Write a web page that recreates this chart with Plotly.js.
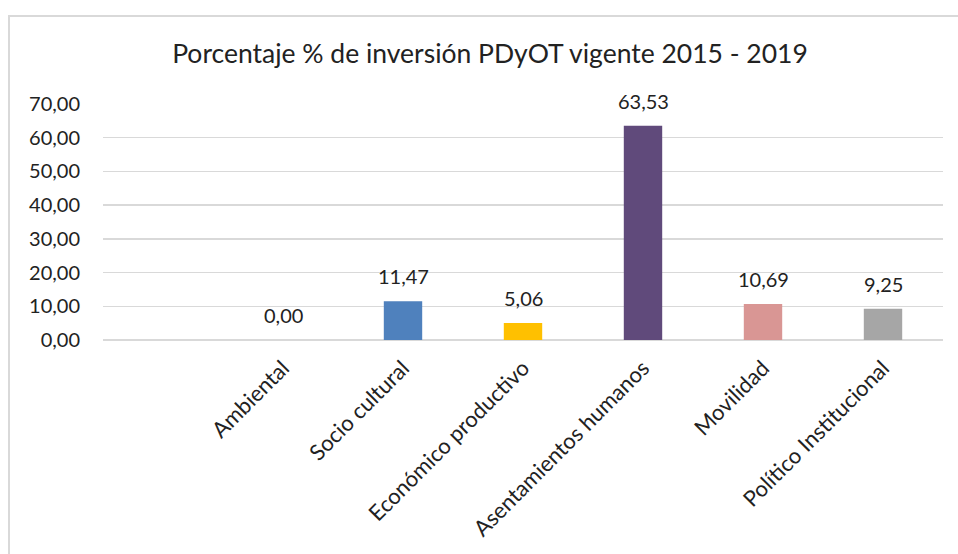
<!DOCTYPE html>
<html>
<head>
<meta charset="utf-8">
<script src="https://cdn.plot.ly/plotly-3.0.1.min.js"></script>
<style>
    body { margin: 0; background: #fff; }
    #chart { width: 958px; height: 554px; }
    #frame {
        position: absolute; left: 8px; top: 15px; width: 950px; height: 539px;
        border-top: 2px solid #d9d9d9; border-left: 2px solid #d9d9d9;
        pointer-events: none;
    }
</style>
</head>
<body>
<div id="chart"></div>
<div id="frame"></div>
<script>
const categories = ['Ambiental', 'Socio cultural', 'Económico productivo',
        'Asentamientos humanos', 'Movilidad', 'Político Institucional'],
    values = [0.00, 11.47, 5.06, 63.53, 10.69, 9.25],
    barColors = ['#9bbb59', '#4f81bd', '#ffc000', '#604a7b', '#d99694', '#a6a6a6'],
    yTicks = [0, 10, 20, 30, 40, 50, 60, 70];

const textColor = '#222',
    fontFamily = 'Lato, "Open Sans", sans-serif';

// data labels sit a fixed distance above each bar, like the Excel original
const labels = categories.map((cat, i) => ({
    x: cat,
    y: values[i],
    text: values[i].toFixed(2).replace('.', ','),
    showarrow: false,
    yanchor: 'middle',
    yshift: 25,
    font: { family: fontFamily, size: 20, color: textColor },
}));

let data = [{
        type: 'bar',
        x: categories,
        y: values,
        width: 0.32,
        marker: { color: barColors },
        hoverinfo: 'x+y',
    }],
    layout = {
        width: 958,
        height: 554,
        separators: ',.',
        margin: { l: 103, r: 15, t: 104, b: 214 },
        paper_bgcolor: '#fff',
        plot_bgcolor: '#fff',
        showlegend: false,
        font: { family: fontFamily, size: 20, color: textColor },
        title: {
            text: 'Porcentaje % de inversión PDyOT vigente 2015 - 2019',
            font: { family: fontFamily, size: 26.5, color: textColor },
            xref: 'container', yref: 'container',
            x: 490 / 958, y: 1 - 54 / 554,
            xanchor: 'center', yanchor: 'middle',
        },
        xaxis: {
            type: 'category',
            range: [-1.5, 5.5],
            tickangle: -45,
            showgrid: false,
            showline: false,
            zeroline: false,
            ticks: '',
            ticklabelstandoff: 10,
            tickfont: { family: fontFamily, size: 22, color: textColor },
        },
        yaxis: {
            range: [0, 70],
            tickvals: yTicks,
            tickformat: '.2f',
            showgrid: true,
            gridcolor: '#d9d9d9',
            gridwidth: 1.5,
            zeroline: true,
            zerolinecolor: '#d9d9d9',
            zerolinewidth: 1.5,
            showline: false,
            ticks: '',
            ticklabelstandoff: 22,
            tickfont: { family: fontFamily, size: 20, color: textColor },
        },
        annotations: labels,
    },
    config = { displayModeBar: false, staticPlot: true };

Plotly.newPlot('chart', data, layout, config);
</script>
</body>
</html>
